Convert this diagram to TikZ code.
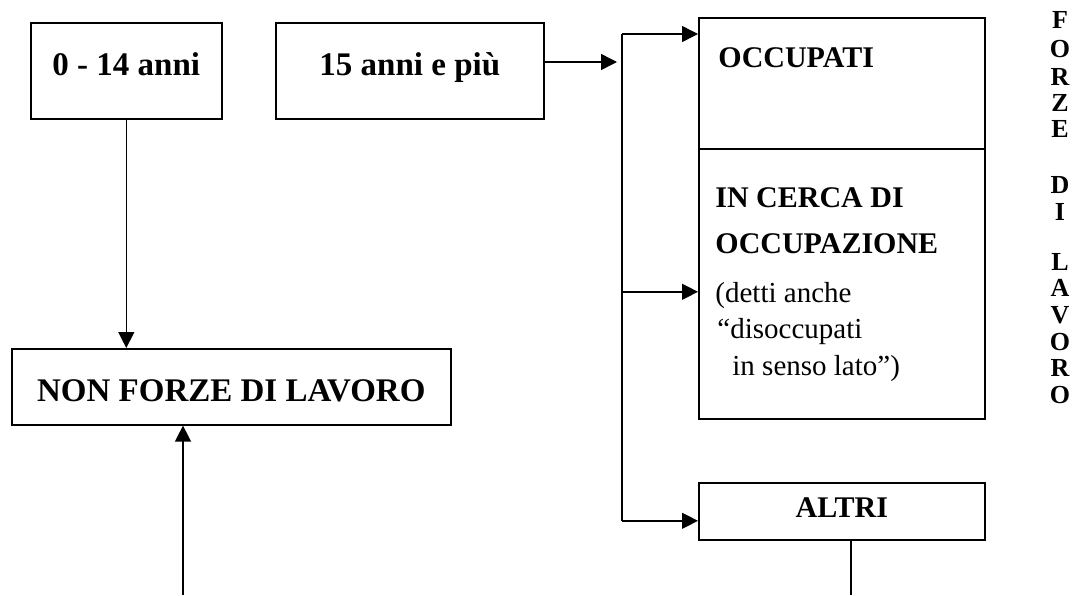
\documentclass[tikz,border=0pt]{standalone}
\usepackage{fontspec}
\setmainfont{Liberation Serif}
\usetikzlibrary{arrows.meta,positioning}

\tikzset{
  box/.style={draw,line width=.8pt,inner sep=0pt,anchor=north west},
  big/.style={font=\fontsize{16.5}{20}\bfseries\selectfont},
  lab/.style={font=\fontsize{15}{17}\bfseries\selectfont,inner sep=0pt,anchor=base west},
  note/.style={font=\fontsize{14.5}{17}\selectfont,inner sep=0pt,anchor=base west},
  lett/.style={font=\fontsize{13}{14}\bfseries\selectfont,inner sep=0pt,anchor=base},
  arr/.style={-{Triangle[length=8pt,width=8pt]},line width=.7pt},
  wire/.style={line width=.7pt}
}

\begin{document}
\begin{tikzpicture}[x=.5pt,y=-.5pt]
\useasboundingbox (0,0) rectangle (1080,595);
% riquadri a sinistra
\node[box,big,minimum width=95.5pt,minimum height=48pt,text height=12pt,text depth=7pt] (age0) at (30,22) {0 - 14 anni};
\node[box,big,minimum width=134pt,minimum height=48pt,text height=12pt,text depth=7pt] (age15) at (275,22) {15 anni e più};
\node[box,big,minimum width=219.5pt,minimum height=38pt,text height=15pt,text depth=0pt] (nonfl) at (11,348) {NON FORZE DI LAVORO};
% riquadri a destra
\node[box,minimum width=143pt,minimum height=65.5pt] (occ) at (698,17) {};
\node[box,minimum width=143pt,minimum height=135pt] (cerca) at (698,148) {};
\node[box,font=\fontsize{15}{17}\bfseries\selectfont,minimum width=143pt,minimum height=28.5pt,text height=11pt,text depth=4.5pt] (altri) at (698,482) {ALTRI};
\node[lab] (occtxt) at (718,67) {OCCUPATI};
\node[lab] (cerca1) at (715,207) {IN CERCA DI};
\node[lab] (cerca2) at (715,253) {OCCUPAZIONE};
\node[note] (nota1) at (715,302) {(detti anche};
\node[note] (nota2) at (717,338) {“disoccupati};
\node[note] (nota3) at (732,375) {in senso lato”)};
% scritta verticale
\foreach \c/\y in {F/20,O/49,R/77,Z/103,E/129,D/185,I/212,L/262,A/288,V/315,O/342,R/368,O/395}
  \node[lett] (fl-\y) at (1060,\y+8) {\c};
% frecce
\coordinate (split) at (622,62); \coordinate (bot) at (183,595); \coordinate (tail) at (851,595);
\coordinate (t1) at ([yshift=-8.5pt]occ.north west); \coordinate (t2) at ([yshift=-4pt]cerca.west); \coordinate (t3) at ([yshift=-4.75pt]altri.west);
\draw[arr] (age0.south) -- (age0.south |- nonfl.north);
\draw[arr] (bot) -- (bot |- nonfl.south);
\draw[arr] (age15.east |- split) -- ([xshift=-2.5pt]split);
\draw[wire] (split |- t1) -- (split |- t3);
\draw[arr] (split |- t1) -- (t1); \draw[arr] (split |- t2) -- (t2); \draw[arr] (split |- t3) -- (t3);
\draw[wire] (tail |- altri.south) -- (tail);
\end{tikzpicture}
\end{document}
